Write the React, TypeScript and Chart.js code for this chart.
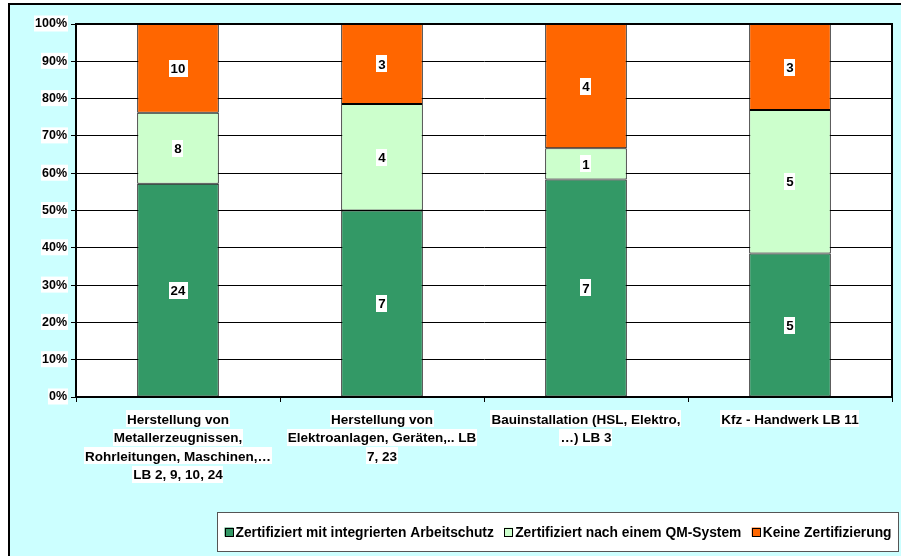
import React, { useEffect, useRef } from "react";
import { Chart, registerables } from "chart.js";

Chart.register(...registerables);

const categoryLines: string[][] = [
  ["Herstellung von", "Metallerzeugnissen,", "Rohrleitungen, Maschinen,…", "LB 2, 9, 10, 24"],
  ["Herstellung von", "Elektroanlagen, Geräten,.. LB", "7, 23"],
  ["Bauinstallation (HSL, Elektro,", "…) LB 3"],
  ["Kfz - Handwerk LB 11"],
];
const categories = categoryLines.map((l) => l.join(" "));

const seriesNames = [
  "Zertifiziert mit integrierten Arbeitschutz",
  "Zertifiziert nach einem QM-System",
  "Keine Zertifizierung",
];
const zertArbeitsschutz = [24, 7, 7, 5];
const zertQM = [8, 4, 1, 5];
const keineZert = [10, 3, 4, 3];
const seriesColors = ["#339966", "#CCFFCC", "#FF6600"];

const FONT = "'Liberation Sans', Arial, sans-serif";

export default function App() {
  const ref = useRef<HTMLCanvasElement | null>(null);

  useEffect(() => {
    const canvas = ref.current!;
    const counts = [zertArbeitsschutz, zertQM, keineZert];
    const totals = categories.map((_, i) => counts.reduce((s, c) => s + c[i], 0));

    const bgPlugin = {
      id: "bg",
      beforeDraw(chart: any) {
        const ctx = chart.ctx;
        ctx.save();
        ctx.fillStyle = "#ffffff";
        ctx.fillRect(0, 0, chart.width, chart.height);
        ctx.fillStyle = "#CCFFFF";
        ctx.fillRect(8, 3, chart.width, chart.height);
        ctx.strokeStyle = "#000";
        ctx.lineWidth = 2;
        ctx.strokeRect(9, 4, chart.width + 10, chart.height + 10);
        const a = chart.chartArea;
        ctx.fillStyle = "#ffffff";
        ctx.fillRect(a.left, a.top, a.right - a.left, a.bottom - a.top);
        ctx.restore();
      },
      afterDatasetsDraw(chart: any) {
        const ctx = chart.ctx;
        const a = chart.chartArea;
        ctx.save();
        ctx.strokeStyle = "#000";
        ctx.lineWidth = 2;
        ctx.beginPath();
        ctx.moveTo(a.left, a.top);
        ctx.lineTo(a.right, a.top);
        ctx.lineTo(a.right, a.bottom);
        ctx.stroke();
        ctx.font = `bold 13.3px ${FONT}`;
        ctx.textAlign = "center";
        ctx.textBaseline = "middle";
        chart.data.datasets.forEach((ds: any, di: number) => {
          const meta = chart.getDatasetMeta(di);
          meta.data.forEach((el: any, i: number) => {
            const txt = String(ds.counts[i]);
            const cx = el.x;
            const cy = (el.y + el.base) / 2;
            const w = ctx.measureText(txt).width + 4;
            const h = 17;
            ctx.fillStyle = "#fff";
            ctx.fillRect(Math.round(cx - w / 2), Math.round(cy - h / 2), Math.round(w), h);
            ctx.fillStyle = "#000";
            ctx.fillText(txt, cx, cy + 1);
          });
        });
        ctx.restore();
      },
      afterDraw(chart: any) {
        const ctx = chart.ctx;
        const a = chart.chartArea;
        const xs = chart.scales.x;
        ctx.save();
        ctx.font = `bold 13.5px ${FONT}`;
        ctx.textAlign = "center";
        ctx.textBaseline = "middle";
        categoryLines.forEach((lines, i) => {
          const x = xs.getPixelForValue(i);
          lines.forEach((line, j) => {
            const y = a.bottom + 22 + j * 18.5;
            const w = ctx.measureText(line).width + 2;
            ctx.fillStyle = "#fff";
            ctx.fillRect(Math.round(x - w / 2), Math.round(y - 9), Math.round(w), 17);
            ctx.fillStyle = "#000";
            ctx.fillText(line, x, y + 1);
          });
        });
        // legend
        const bx = 217, by = 512, bw = 682, bh = 40;
        ctx.fillStyle = "#fff";
        ctx.fillRect(bx, by, bw, bh);
        ctx.strokeStyle = "#555";
        ctx.lineWidth = 1;
        ctx.strokeRect(bx + 0.5, by + 0.5, bw - 1, bh - 1);
        ctx.font = `bold 13.8px ${FONT}`;
        ctx.textAlign = "left";
        const sq = 9, gapSq = 2;
        const widths = seriesNames.map((n) => ctx.measureText(n).width);
        const contentW = 667;
        const sumW = widths.reduce((s, w) => s + sq + gapSq + w, 0);
        const gapItem = Math.max(8, (contentW - sumW) / (seriesNames.length - 1));
        const total = sumW + gapItem * (seriesNames.length - 1);
        let x = bx + bw / 2 - total / 2;
        const cy = by + bh / 2;
        seriesNames.forEach((n, i) => {
          ctx.fillStyle = seriesColors[i];
          ctx.fillRect(x, cy - sq / 2, sq, sq);
          ctx.strokeStyle = "#000";
          ctx.strokeRect(Math.round(x) + 0.5, Math.round(cy - sq / 2) + 0.5, sq - 1, sq - 1);
          ctx.fillStyle = "#000";
          ctx.fillText(n, x + sq + gapSq, cy + 1);
          x += sq + gapSq + widths[i] + gapItem;
        });
        ctx.restore();
      },
    };

    const chart = new Chart(canvas, {
      type: "bar",
      data: {
        labels: categories,
        datasets: counts.map((c, di) => ({
          label: seriesNames[di],
          data: c.map((v, i) => (v / totals[i]) * 100),
          counts: c,
          backgroundColor: seriesColors[di],
          borderColor: "#000",
          borderWidth: 1,
          borderSkipped: false,
          categoryPercentage: 0.4,
          barPercentage: 1,
        })) as any,
      },
      options: {
        animation: false,
        responsive: false,
        layout: { padding: { left: 0, top: 24, right: 9, bottom: 59 } },
        plugins: { legend: { display: false }, tooltip: { enabled: false } },
        scales: {
          x: {
            stacked: true,
            grid: {
              offset: true,
              drawOnChartArea: false,
              drawTicks: true,
              tickLength: 5,
              color: "#000",
            },
            border: { display: true, color: "#000", width: 2 },
            ticks: { display: false },
            afterFit(scale: any) {
              scale.height = 100;
            },
          },
          y: {
            stacked: true,
            min: 0,
            max: 100,
            grid: { color: "#000", lineWidth: 1, tickLength: 5, drawTicks: true },
            border: { display: true, color: "#000", width: 2 },
            ticks: {
              stepSize: 10,
              padding: 4,
              color: "#000",
              font: { family: FONT, size: 12.5, weight: "bold" },
              showLabelBackdrop: true,
              backdropColor: "#fff",
              backdropPadding: { top: 1, bottom: 0, left: 1, right: 1 },
              callback: (v: any) => `${v}%`,
            },
            afterFit(scale: any) {
              scale.width = 76;
            },
          },
        },
      },
      plugins: [bgPlugin],
    });
    return () => chart.destroy();
  }, []);

  return (
    <div style={{ position: "fixed", left: 0, top: 0, width: 901, height: 556 }}>
      <canvas ref={ref} width={901} height={556} style={{ width: 901, height: 556, display: "block" }} />
    </div>
  );
}
